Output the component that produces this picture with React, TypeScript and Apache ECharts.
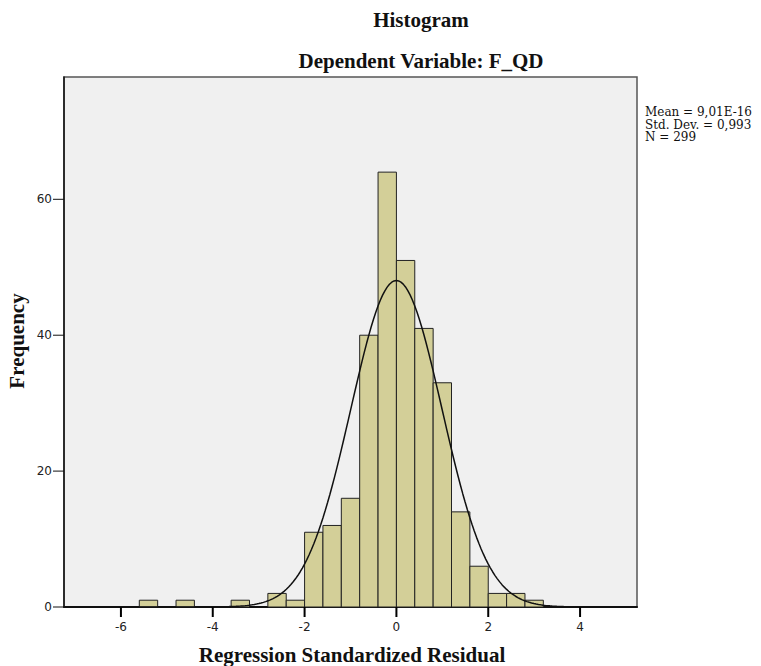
import React, { useEffect, useRef } from "react";
import * as echarts from "echarts";

// Histogram bins (start of each bin) and frequencies
const binWidth = 0.4;
const binStarts = [-5.6, -4.8, -3.6, -2.8, -2.4, -2.0, -1.6, -1.2, -0.8, -0.4, 0, 0.4, 0.8, 1.2, 1.6, 2.0, 2.4, 2.8];
const counts = [1, 1, 1, 2, 1, 11, 12, 16, 40, 64, 51, 41, 33, 14, 6, 2, 2, 1];

// Displayed summary statistics
const meanValue = 9.01e-16;
const stdDev = 0.993;
const nObs = 299;
const statsLines = ["Mean = 9,01E-16", "Std. Dev. = 0,993", "N = 299"];

const xTicks = [-6, -4, -2, 0, 2, 4];
const yTicks = [0, 20, 40, 60];
const xMin = -7.24;
const xMax = 5.24;
const yMax = 78;

export default function App() {
  const ref = useRef<HTMLDivElement>(null);
  useEffect(() => {
    if (!ref.current) return;
    const chart = echarts.init(ref.current, null, { renderer: "svg" });

    const barData = binStarts.map((s, i) => [s, s + binWidth, counts[i]]);
    // fitted normal curve from displayed mean / sd / N
    const curve: number[][] = [];
    const steps = 250;
    for (let k = 0; k <= steps; k++) {
      const x = xMin + ((xMax - xMin) * k) / steps;
      const z = (x - meanValue) / stdDev;
      const y = (nObs * binWidth) / (stdDev * Math.sqrt(2 * Math.PI)) * Math.exp(-0.5 * z * z);
      curve.push([x, y]);
    }

    const titleFont = '"Liberation Serif", "Times New Roman", serif';

    chart.setOption({
      animation: false,
      grid: {
        left: 64,
        top: 77,
        width: 573,
        height: 530,
        show: true,
        backgroundColor: "#f0f0f0",
        borderColor: "#555",
        borderWidth: 1.5,
      },
      xAxis: {
        type: "value",
        min: xMin,
        max: xMax,
        splitLine: { show: false },
        axisLine: { show: true, onZero: false, lineStyle: { color: "#111", width: 2 } },
        axisTick: { show: false },
        axisLabel: {
          customValues: xTicks,
          margin: 14,
          color: "#222",
          fontFamily: '"DejaVu Sans", sans-serif',
          fontSize: 12,
          formatter: (v: number) => String(v),
        },
      },
      yAxis: {
        type: "value",
        min: 0,
        max: yMax,
        splitLine: { show: false },
        axisLine: { show: true, onZero: false, lineStyle: { color: "#111", width: 1.5 } },
        axisTick: { show: false },
        axisLabel: {
          customValues: yTicks,
          margin: 12,
          color: "#222",
          fontFamily: '"DejaVu Sans", sans-serif',
          fontSize: 12,
        },
      },
      series: [
        {
          type: "custom",
          data: barData,
          renderItem: (params: any, api: any) => {
            const p0 = api.coord([api.value(0), api.value(2)]);
            const p1 = api.coord([api.value(1), 0]);
            return {
              type: "rect",
              shape: { x: p0[0], y: p0[1], width: p1[0] - p0[0], height: p1[1] - p0[1] },
              style: { fill: "#d3cf98", stroke: "#222", lineWidth: 1 },
            };
          },
          z: 2,
        },
        {
          type: "line",
          data: curve,
          showSymbol: false,
          smooth: false,
          lineStyle: { color: "#111", width: 1.5 },
          z: 3,
        },
      ],
    });

    // tick marks placed through the axes' own scales
    const xTickEls = xTicks.map((v) => {
      const p = chart.convertToPixel({ xAxisIndex: 0, yAxisIndex: 0 }, [v, 0]) as number[];
      return {
        type: "rect",
        z: 100,
        shape: { x: p[0] - 1, y: p[1], width: 2, height: 10 },
        style: { fill: "#000" },
      };
    });
    const yTickEls = yTicks.map((v) => {
      const p = chart.convertToPixel({ xAxisIndex: 0, yAxisIndex: 0 }, [xMin, v]) as number[];
      return {
        type: "line",
        z: 100,
        shape: { x1: p[0] - 11, y1: p[1], x2: p[0], y2: p[1] },
        style: { stroke: "#111", lineWidth: 1 },
      };
    });

    chart.setOption({
      graphic: [
        {
          type: "text",
          x: 421,
          y: 20,
          style: { text: "Histogram", font: `bold 21px ${titleFont}`, fill: "#111", textAlign: "center", textVerticalAlign: "middle" },
        },
        {
          type: "text",
          x: 421,
          y: 61,
          style: { text: "Dependent Variable: F_QD", font: `bold 21px ${titleFont}`, fill: "#111", textAlign: "center", textVerticalAlign: "middle" },
        },
        {
          type: "text",
          x: 352,
          y: 655,
          style: { text: "Regression Standardized Residual", font: `bold 21px ${titleFont}`, fill: "#111", textAlign: "center", textVerticalAlign: "middle" },
        },
        {
          type: "text",
          x: 17,
          y: 341,
          rotation: Math.PI / 2,
          style: { text: "Frequency", font: `bold 21px ${titleFont}`, fill: "#111", textAlign: "center", textVerticalAlign: "middle" },
        },
        ...statsLines.map((t, i) => ({
          type: "text",
          x: 645,
          y: 112 + i * 12.5,
          style: { text: t, font: '12px "DejaVu Serif", serif', fill: "#111", textAlign: "left", textVerticalAlign: "middle" },
        })),
        ...xTickEls,
        ...yTickEls,
      ],
    });
    return () => chart.dispose();
  }, []);
  return <div ref={ref} style={{ position: "absolute", left: 0, top: 0, width: 761, height: 666, background: "#fff" }} />;
}
